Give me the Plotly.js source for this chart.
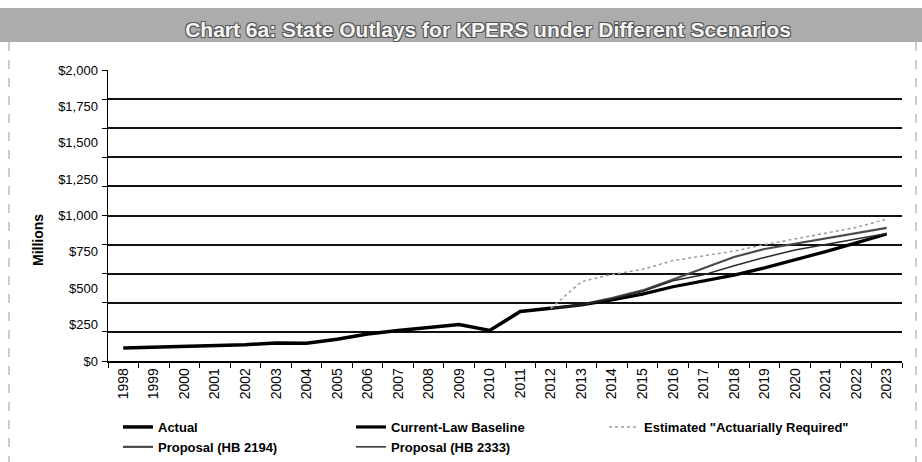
<!DOCTYPE html>
<html>
<head>
<meta charset="utf-8">
<script src="https://cdn.plot.ly/plotly-3.0.1.min.js"></script>
<style>html,body{margin:0;padding:0;background:#fff;}#chart{width:922px;height:462px;}</style>
</head>
<body>
<div id="chart"></div>
<script>
// ---- data ----
const years = ["1998","1999","2000","2001","2002","2003","2004","2005","2006","2007","2008","2009","2010","2011","2012","2013","2014","2015","2016","2017","2018","2019","2020","2021","2022","2023"];
const actualYears = ["1998","1999","2000","2001","2002","2003","2004","2005","2006","2007","2008","2009","2010","2011","2012"];
const actual = [89, 95, 103, 105, 112, 124, 122, 150, 185, 210, 232, 250, 210, 340, 362];
const projYears = ["2012","2013","2014","2015","2016","2017","2018","2019","2020","2021","2022","2023"];
const baseline = [362, 385, 420, 460, 510, 550, 590, 640, 695, 752, 812, 873];
const estimated = [362, 545, 595, 630, 690, 720, 755, 800, 840, 877, 918, 975];
const hb2194 = [362, 388, 432, 485, 560, 635, 715, 770, 805, 843, 880, 915];
const hb2333 = [362, 386, 428, 478, 552, 592, 655, 712, 763, 802, 843, 877];
const yTickVals = [0, 250, 500, 750, 1000, 1250, 1500, 1750, 2000];
const yTickText = ["$0","$250","$500","$750","$1,000","$1,250","$1,500","$1,750","$2,000"];

// ---- layout constants ----
const W = 922, H = 462;
const M = {l: 108, r: 20, t: 70, b: 101, autoexpand: false};
const plotW = W - M.l - M.r, plotH = H - M.t - M.b;
const px2paperX = p => (p - M.l) / plotW;
const px2paperY = p => (H - M.b - p) / plotH;
const FONT = "Arial, 'Liberation Sans', sans-serif";

const traces = [
  {name: "Actual", x: actualYears, y: actual, mode: "lines",
   line: {color: "#000", width: 3.5}, legend: "legend"},
  {name: "Proposal (HB 2194)", x: projYears, y: hb2194, mode: "lines",
   line: {color: "#4a4a4a", width: 2.2}, legend: "legend"},
  {name: "Current-Law Baseline", x: projYears, y: baseline, mode: "lines",
   line: {color: "#000", width: 3.2}, legend: "legend2"},
  {name: "Proposal (HB 2333)", x: projYears, y: hb2333, mode: "lines",
   line: {color: "#2a2a2a", width: 1.5}, legend: "legend2"},
  {name: "Estimated \"Actuarially Required\"", x: projYears, y: estimated, mode: "lines",
   line: {color: "#9a9a9a", width: 1.5, dash: "dot"}, legend: "legend3"}
];

const legendCommon = {
  orientation: "v", xref: "container", yref: "container",
  xanchor: "left", yanchor: "top", bgcolor: "rgba(0,0,0,0)",
  font: {family: FONT, size: 13, color: "#000", weight: "bold"},
  tracegroupgap: 0, itemwidth: 30, traceorder: "normal"
};

const layout = {
  width: W, height: H,
  margin: M,
  paper_bgcolor: "#fff", plot_bgcolor: "#fff",
  font: {family: FONT, color: "#000"},
  showlegend: true,
  title: {
    text: "Chart 6a: State Outlays for KPERS under Different Scenarios",
    font: {family: FONT, size: 21, color: "#f4f4f4", weight: "bold",
           shadow: "1px 1px 0 #555, -1px -1px 0 #555, 1px -1px 0 #555, -1px 1px 0 #555"},
    xref: "container", yref: "container",
    x: 488 / W, xanchor: "center", y: 1 - 30 / H, yanchor: "middle",
    automargin: false
  },
  xaxis: {
    type: "category", categoryorder: "array", categoryarray: years,
    range: [-0.5, years.length - 0.5], automargin: false,
    tickangle: -90, tickfont: {family: FONT, size: 14, color: "#000"},
    showline: true, linecolor: "#000", linewidth: 1.5,
    ticks: "outside", ticklen: 5, tickcolor: "#000", tickson: "boundaries",
    showgrid: false, zeroline: false, fixedrange: true
  },
  yaxis: {
    range: [0, 2000], tickvals: yTickVals, ticktext: yTickText, automargin: false,
    tickfont: {family: FONT, size: 13, color: "#000"}, ticklabelstandoff: 6,
    ticks: "", showgrid: false, zeroline: false,
    showline: true, linecolor: "#000", linewidth: 1.5,
    minor: {dtick: 200, tick0: 0, showgrid: true, gridcolor: "#111", gridwidth: 2,
            ticks: "outside", ticklen: 5, tickcolor: "#000"},
    fixedrange: true
  },
  annotations: [
    {text: "<b>Millions</b>", xref: "paper", yref: "paper", textangle: -90,
     x: px2paperX(38), y: px2paperY(240), xanchor: "center", yanchor: "middle",
     showarrow: false, font: {family: FONT, size: 14, color: "#000"}}
  ],
  legend: Object.assign({}, legendCommon, {x: 118 / W, y: 1 - 412 / H}),
  legend2: Object.assign({}, legendCommon, {x: 351 / W, y: 1 - 412 / H}),
  legend3: Object.assign({}, legendCommon, {x: 604 / W, y: 1 - 412 / H}),
  shapes: [
    {type: "rect", xref: "paper", yref: "paper", layer: "below",
     x0: px2paperX(0), x1: px2paperX(W), y0: px2paperY(42), y1: px2paperY(8),
     fillcolor: "#acacac", line: {width: 0}},
    {type: "line", xref: "paper", yref: "paper",
     x0: px2paperX(9), x1: px2paperX(9), y0: px2paperY(42), y1: px2paperY(H),
     line: {color: "#999", width: 1, dash: "dash"}},
    {type: "line", xref: "paper", yref: "paper",
     x0: px2paperX(916), x1: px2paperX(916), y0: px2paperY(42), y1: px2paperY(H),
     line: {color: "#999", width: 1, dash: "dash"}}
  ]
};

Plotly.newPlot("chart", traces, layout, {displayModeBar: false, staticPlot: true});
</script>
</body>
</html>
